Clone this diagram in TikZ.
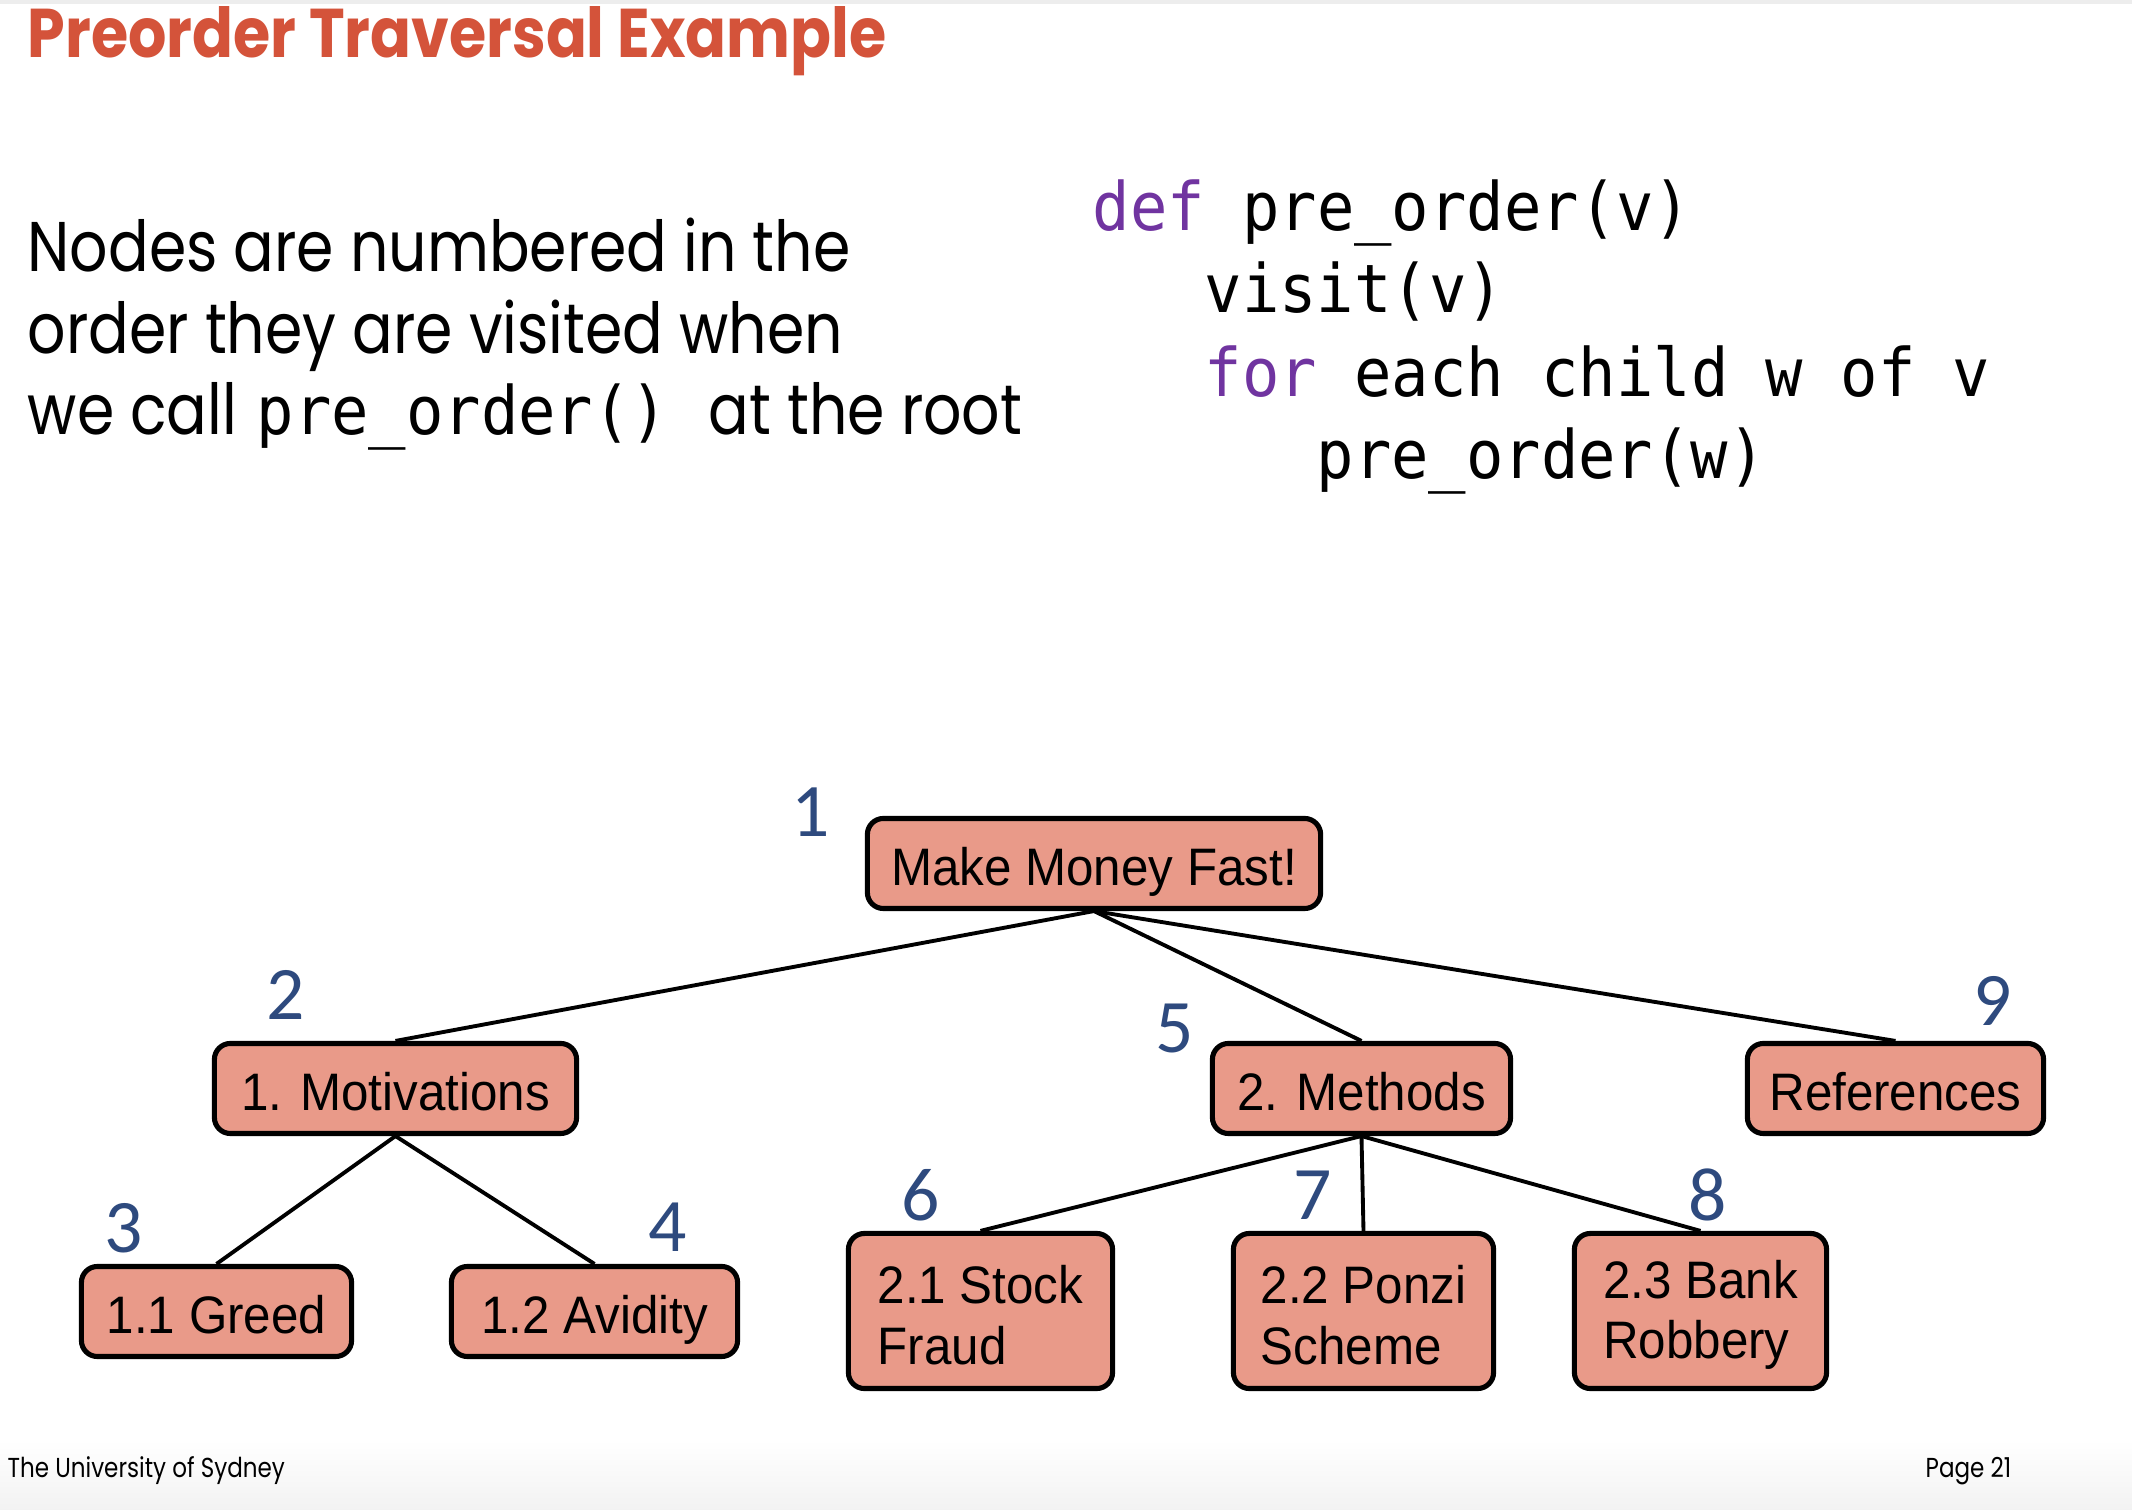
\documentclass[tikz,border=0pt]{standalone}
\usepackage{fontspec}
\setmainfont{Liberation Sans}
\newfontfamily\titlefont{Poppins}[FakeStretch=0.875]
\newfontfamily\bodyfont{Poppins}[FakeStretch=0.855]
\newfontfamily\footfont{Poppins}[FakeStretch=0.84]
\newfontfamily\codefont{DejaVu Sans Mono}[FakeStretch=0.93]
\newfontfamily\numfont{Carlito}
\newfontfamily\boxfont{Liberation Sans}[FakeStretch=0.935]
\definecolor{titlecol}{HTML}{D4533A}
\definecolor{boxfill}{HTML}{E99A89}
\definecolor{numblue}{HTML}{2E4A7E}
\definecolor{kwpurple}{HTML}{7034A0}
\newcommand{\lowstrut}{\rule{0pt}{13.2pt}}
\begin{document}
\begin{tikzpicture}[x=0.01cm,y=-0.01cm,
  tbox/.style={draw=black, line width=1.45pt, fill=boxfill, rounded corners=0.16cm, inner sep=0pt,
    font=\boxfont\fontsize{15pt}{17.1pt}\selectfont},
  onel/.style={text height=12.6pt, text depth=0pt, minimum height=0.90cm},
  twol/.style={align=left, minimum height=1.55cm},
  edge/.style={line width=1.1pt},
  num/.style={text=numblue, font=\numfont\fontsize{21.5pt}{24pt}\selectfont, inner sep=0pt},
  codeline/.style={anchor=base west, inner sep=0pt, font=\codefont\fontsize{19pt}{22pt}\selectfont},
  bodyline/.style={anchor=base west, inner sep=0pt, font=\bodyfont\fontsize{20pt}{24pt}\selectfont}]
\useasboundingbox (0,0) rectangle (2132,1510);
\fill[white] (0,0) rectangle (2132,1510);
\fill[gray!14] (0,0) rectangle (2132,4);
\shade[top color=white, bottom color=gray!10] (0,1440) rectangle (2132,1510);

% title
\node[anchor=base west, inner sep=0pt, text=titlecol, font=\titlefont\bfseries\fontsize{19.6pt}{23pt}\selectfont] (title) at (27,58) {Preorder Traversal Example};

% body text
\node[bodyline] (b1) at (27,272) {Nodes are numbered in the};
\node[bodyline] (b2) at (27,354) {order they are visited when};
\node[bodyline] (b3a) at (27,435) {we call};
\node[codeline] (b3b) at (256,435) {pre\_order()};
\node[bodyline] (b3c) at (708,435) {at the root};

% code
\node[codeline] (c1) at (1092,231) {\textcolor{kwpurple}{def} pre\_order(v)};
\node[codeline] (c2) at (1204,313) {visit(v)};
\node[codeline] (c3) at (1204,397) {\textcolor{kwpurple}{for} each child w of v};
\node[codeline] (c4) at (1316,479) {pre\_order(w)};

% tree nodes
\node[tbox, onel, minimum width=4.53cm] (root) at (1094,863.5) {Make Money Fast!};
\node[tbox, onel, minimum width=3.62cm] (mot) at (395.5,1088.5) {1. Motivations};
\node[tbox, onel, minimum width=2.98cm] (meth) at (1361.5,1088.5) {2. Methods};
\node[tbox, onel, minimum width=2.96cm] (ref) at (1895.5,1088.5) {References};
\node[tbox, onel, minimum width=2.70cm] (greed) at (216.5,1311.5) {1.1 Greed};
\node[tbox, onel, minimum width=2.86cm] (avid) at (594.5,1311.5) {1.2 Avidity};
\node[tbox, twol, minimum width=2.64cm] (stock) at (980.5,1311) {\lowstrut 2.1 Stock\\Fraud};
\node[tbox, twol, minimum width=2.60cm] (ponzi) at (1363.5,1311) {\lowstrut 2.2 Ponzi\\Scheme};
\node[tbox, twol, minimum width=2.52cm] (bank) at (1700.5,1311) {\lowstrut 2.3 Bank\\Robbery};

% edges
\draw[edge] (root.south) -- (mot.north);
\draw[edge] (root.south) -- (meth.north);
\draw[edge] (root.south) -- (ref.north);
\draw[edge] (mot.south) -- (greed.north);
\draw[edge] (mot.south) -- (avid.north);
\draw[edge] (meth.south) -- (stock.north);
\draw[edge] (meth.south) -- (ponzi.north);
\draw[edge] (meth.south) -- (bank.north);

% visit numbers
\node[num] (n1) at (811,812) {1};
\node[num] (n2) at (286,995) {2};
\node[num] (n3) at (124,1228) {3};
\node[num] (n4) at (668,1227) {4};
\node[num] (n5) at (1175,1029) {5};
\node[num] (n6) at (921,1195) {6};
\node[num] (n7) at (1313,1195) {7};
\node[num] (n8) at (1708,1195) {8};
\node[num] (n9) at (1993,1001) {9};

% footer
\node[anchor=base west, inner sep=0pt, font=\footfont\fontsize{7.8pt}{9pt}\selectfont] (foot1) at (7,1478) {The University of Sydney};
\node[anchor=base west, inner sep=0pt, font=\footfont\fontsize{7.8pt}{9pt}\selectfont] (foot2) at (1925,1478) {Page 21};
\end{tikzpicture}
\end{document}
